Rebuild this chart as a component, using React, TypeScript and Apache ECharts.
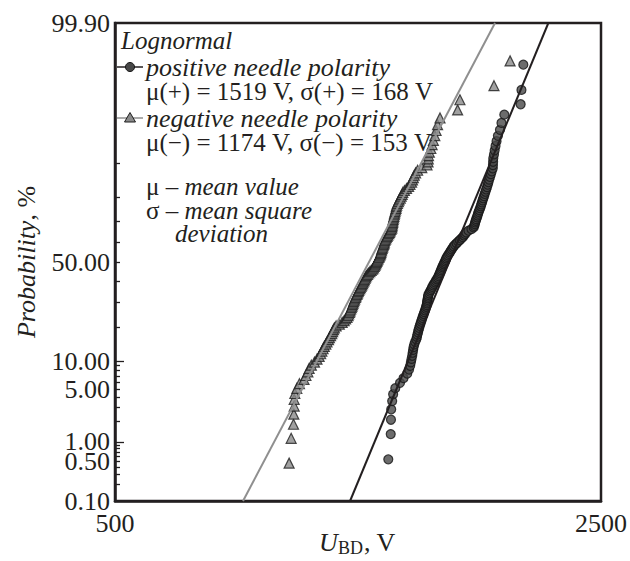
import React, { useEffect, useRef } from "react";
import * as echarts from "echarts";

// Breakdown voltages (V), sorted
const positiveU = [
  1236, 1246, 1247, 1248, 1252, 1256, 1265, 1285, 1300, 1316,
  1324, 1329, 1332, 1335, 1338, 1340, 1342, 1344, 1347, 1351,
  1356, 1359, 1361, 1364, 1366, 1369, 1372, 1375, 1378, 1381,
  1384, 1387, 1390, 1393, 1396, 1399, 1401, 1404, 1405, 1406,
  1407, 1409, 1410, 1411, 1415, 1419, 1423, 1427, 1430, 1434,
  1438, 1443, 1447, 1452, 1456, 1460, 1463, 1466, 1469, 1472,
  1475, 1478, 1481, 1485, 1488, 1492, 1495, 1498, 1502, 1506,
  1511, 1516, 1520, 1525, 1530, 1535, 1542, 1550, 1558, 1566,
  1574, 1582, 1588, 1594, 1600, 1612, 1628, 1640, 1643, 1646,
  1648, 1651, 1654, 1658, 1661, 1664, 1667, 1671, 1675, 1679,
  1682, 1686, 1689, 1693, 1697, 1701, 1705, 1709, 1714, 1718,
  1722, 1726, 1731, 1736, 1741, 1747, 1748, 1749, 1750, 1754,
  1758, 1763, 1769, 1777, 1789, 1798, 1815, 1916, 1921, 1933,
];

const negativeU = [
  890, 896, 903, 904, 905, 905, 907, 913, 921, 935,
  941, 947, 951, 958, 968, 976, 983, 988, 992, 996,
  1000, 1005, 1009, 1014, 1017, 1021, 1025, 1028, 1031, 1034,
  1040, 1051, 1061, 1068, 1073, 1078, 1082, 1084, 1087, 1089,
  1091, 1094, 1096, 1098, 1100, 1102, 1104, 1106, 1109, 1111,
  1114, 1116, 1119, 1121, 1124, 1127, 1130, 1132, 1135, 1137,
  1140, 1142, 1145, 1147, 1150, 1154, 1158, 1163, 1168, 1173,
  1177, 1180, 1183, 1185, 1188, 1190, 1192, 1195, 1198, 1200,
  1203, 1205, 1206, 1208, 1209, 1211, 1213, 1215, 1217, 1219,
  1220, 1222, 1225, 1228, 1231, 1234, 1238, 1241, 1244, 1247,
  1250, 1251, 1252, 1253, 1254, 1255, 1256, 1258, 1259, 1261,
  1262, 1264, 1266, 1268, 1269, 1271, 1274, 1278, 1281, 1286,
  1290, 1294, 1297, 1304, 1313, 1322, 1328, 1335, 1339, 1343,
  1347, 1353, 1362, 1381, 1405, 1410, 1411, 1412, 1416, 1423,
  1429, 1435, 1442, 1448, 1455, 1467, 1555, 1567, 1754, 1850,
];

// Fitted lognormal lines: voltage at the probability ends (%)
const fitProb = [0.1, 99.9];
const fitPositiveU = [1089, 2100];
const fitNegativeU = [764, 1760];

// Axis ticks / labels
const yLabelProb = [0.1, 0.5, 1, 5, 10, 50, 99.9];
const yLabelText = ["0.10", "0.50", "1.00", "5.00", "10.00", "50.00", "99.90"];
const yTickProb = [0.2, 0.3, 0.4, 0.5, 0.6, 0.7, 0.8, 0.9, 2, 3, 4, 5, 6, 7, 8, 9, 20, 30, 40, 50, 60, 70, 80, 90];
const yLongTickProb = [1, 10];
const xLabelValues = [500, 2500];

function normInv(p: number): number {
  const a = [-3.969683028665376e1, 2.209460984245205e2, -2.759285104469687e2, 1.38357751867269e2, -3.066479806614716e1, 2.506628277459239];
  const b = [-5.447609879822406e1, 1.615858368580409e2, -1.556989798598866e2, 6.680131188771972e1, -1.328068155288572e1];
  const c = [-7.784894002430293e-3, -3.223964580411365e-1, -2.400758277161838, -2.549732539343734, 4.374664141464968, 2.938163982698783];
  const d = [7.784695709041462e-3, 3.224671290700398e-1, 2.445134137142996, 3.754408661907416];
  const plow = 0.02425;
  const phigh = 1 - plow;
  if (p < plow) {
    const q = Math.sqrt(-2 * Math.log(p));
    return (((((c[0] * q + c[1]) * q + c[2]) * q + c[3]) * q + c[4]) * q + c[5]) / ((((d[0] * q + d[1]) * q + d[2]) * q + d[3]) * q + 1);
  }
  if (p <= phigh) {
    const q = p - 0.5;
    const r = q * q;
    return ((((((a[0] * r + a[1]) * r + a[2]) * r + a[3]) * r + a[4]) * r + a[5]) * q) / (((((b[0] * r + b[1]) * r + b[2]) * r + b[3]) * r + b[4]) * r + 1);
  }
  const q = Math.sqrt(-2 * Math.log(1 - p));
  return -(((((c[0] * q + c[1]) * q + c[2]) * q + c[3]) * q + c[4]) * q + c[5]) / ((((d[0] * q + d[1]) * q + d[2]) * q + d[3]) * q + 1);
}

const zOf = (pct: number) => normInv(pct / 100);
// median-rank plotting positions (%)
const rankProb = (i: number, n: number) => ((i + 0.7) / (n + 0.4)) * 100;

const INK = "#231f20";
const SERIF = "'Liberation Serif', 'Times New Roman', serif";
const LEG = 25;
const LH = 20;

export default function App() {
  const ref = useRef<HTMLDivElement>(null);

  useEffect(() => {
    if (!ref.current) return;
    const chart = echarts.init(ref.current, undefined, { renderer: "svg" });
    const yMin = zOf(fitProb[0]);
    const yMax = zOf(fitProb[1]);
    const labelZ = yLabelProb.map(zOf);

    const posData = positiveU.map((u, i) => [u, zOf(rankProb(i, positiveU.length))]);
    const negData = negativeU.map((u, i) => [u, zOf(rankProb(i, negativeU.length))]);

    const txt = (x: number, y: number, text: string, extra: any = {}) => ({
      type: "text",
      x,
      y,
      style: {
        text,
        fontFamily: SERIF,
        fontSize: LEG,
        lineHeight: LH,
        fill: INK,
        verticalAlign: "middle",
        ...extra,
      },
    });
    const mixRich = {
      u: { fontFamily: SERIF, fontSize: LEG, lineHeight: LH, fill: INK },
      i: { fontFamily: SERIF, fontSize: LEG, lineHeight: LH, fill: INK, fontStyle: "italic" },
    };

    const option: any = {
      animation: false,
      grid: {
        left: 115,
        right: 29,
        top: 23,
        bottom: 60,
        show: true,
        borderColor: INK,
        borderWidth: 2.5,
        backgroundColor: "transparent",
      },
      xAxis: {
        type: "log",
        logBase: 10,
        min: xLabelValues[0],
        max: xLabelValues[1],
        axisLine: { show: true, onZero: false, lineStyle: { color: INK, width: 2.5 } },
        axisTick: { show: false },
        splitLine: { show: false },
        minorTick: { show: false },
        axisLabel: {
          customValues: xLabelValues,
          formatter: (v: number) => String(Math.round(v)),
          fontFamily: SERIF,
          fontSize: 26,
          color: INK,
          margin: 9,
        },
      },
      yAxis: [
        {
          type: "value",
          min: yMin,
          max: yMax,
          axisLine: { show: true, onZero: false, lineStyle: { color: INK, width: 2.5 } },
          splitLine: { show: false },
          axisTick: {
            show: true,
            inside: true,
            length: 5,
            customValues: yTickProb.map(zOf),
            lineStyle: { color: INK, width: 1.3 },
          },
          axisLabel: {
            customValues: labelZ,
            formatter: (v: number) => {
              let best = 0;
              labelZ.forEach((z, i) => {
                if (Math.abs(z - v) < Math.abs(labelZ[best] - v)) best = i;
              });
              return yLabelText[best];
            },
            fontFamily: SERIF,
            fontSize: 26,
            lineHeight: 17,
            color: INK,
            margin: 5,
          },
        },
        {
          type: "value",
          position: "left",
          min: yMin,
          max: yMax,
          axisLine: { show: false },
          splitLine: { show: false },
          axisLabel: { show: false },
          axisTick: {
            show: true,
            inside: true,
            length: 9,
            customValues: yLongTickProb.map(zOf),
            lineStyle: { color: INK, width: 1.3 },
          },
        },
      ],
      series: [
        {
          type: "scatter",
          name: "negative needle polarity",
          data: negData,
          symbol: "triangle",
          symbolSize: 10,
          itemStyle: { color: "#8a8a8a", borderColor: "#1f1f1f", borderWidth: 1.2 },
          z: 2,
        },
        {
          type: "scatter",
          name: "positive needle polarity",
          data: posData,
          symbol: "circle",
          symbolSize: 9,
          itemStyle: { color: "#474747", borderColor: "#151515", borderWidth: 1.2 },
          z: 2,
        },
        {
          type: "line",
          name: "fit negative",
          data: fitProb.map((p, i) => [fitNegativeU[i], zOf(p)]),
          symbol: "none",
          lineStyle: { color: "#8f8f8f", width: 2 },
          z: 3,
        },
        {
          type: "line",
          name: "fit positive",
          data: fitProb.map((p, i) => [fitPositiveU[i], zOf(p)]),
          symbol: "none",
          lineStyle: { color: INK, width: 2 },
          z: 3,
        },
      ],
      graphic: [
        txt(121, 40, "Lognormal", { fontStyle: "italic" }),
        { type: "line", shape: { x1: 117, y1: 67, x2: 143, y2: 67 }, style: { stroke: INK, lineWidth: 1.5 } },
        { type: "circle", shape: { cx: 130, cy: 67, r: 4.5 }, style: { fill: "#474747", stroke: "#151515", lineWidth: 1 } },
        txt(146, 67, "positive needle polarity", { fontStyle: "italic", fontSize: 26 }),
        txt(146, 91, "μ(+) = 1519 V, σ(+) = 168 V"),
        { type: "line", shape: { x1: 117, y1: 118, x2: 143, y2: 118 }, style: { stroke: "#8f8f8f", lineWidth: 1.5 } },
        { type: "polygon", shape: { points: [[130, 112.5], [135.5, 122], [124.5, 122]] }, style: { fill: "#8a8a8a", stroke: "#1f1f1f", lineWidth: 1 } },
        txt(146, 118, "negative needle polarity", { fontStyle: "italic", fontSize: 26 }),
        txt(146, 142, "μ(−) = 1174 V, σ(−) = 153 V"),
        txt(146, 186, "{u|μ – }{i|mean value}", { rich: mixRich }),
        txt(146, 210, "{u|σ – }{i|mean square}", { rich: mixRich }),
        txt(175, 233, "deviation", { fontStyle: "italic" }),
        // axis names
        {
          type: "text",
          x: 26,
          y: 262,
          rotation: Math.PI / 2,
          style: {
            text: "{i|Probability}{u|, %}",
            align: "center",
            verticalAlign: "middle",
            rich: {
              i: { fontFamily: SERIF, fontSize: 26, fill: INK, fontStyle: "italic" },
              u: { fontFamily: SERIF, fontSize: 26, fill: INK },
            },
          },
        },
        txt(319, 542, "U", { fontStyle: "italic", fontSize: 26 }),
        txt(338, 548, "BD", { fontSize: 18 }),
        txt(364, 542, ", V", { fontSize: 26 }),
      ],
    };

    chart.setOption(option);
    return () => chart.dispose();
  }, []);

  return (
    <div
      ref={ref}
      style={{ position: "fixed", left: 0, top: 0, width: 630, height: 561, background: "#fff" }}
    />
  );
}
